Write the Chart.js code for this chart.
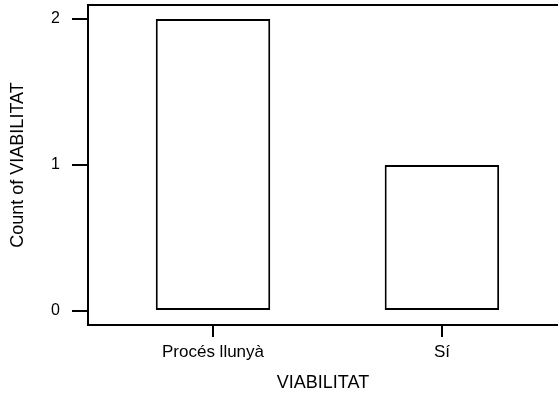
<!DOCTYPE html>
<html>
<head>
<meta charset="utf-8">
<script src="https://cdn.jsdelivr.net/npm/chart.js@4"></script>
<style>
    html, body { margin: 0; padding: 0; background: #fff; }
    #wrap { width: 558px; height: 396px; }
</style>
</head>
<body>
<div id="wrap"><canvas id="countChart" width="558" height="396"></canvas></div>
<script>
// data
const categories = ['Procés llunyà', 'Sí'];
const counts = [2, 1];
const yTicks = [0, 1, 2];

const points = categories.map((c, i) => ({ x: i + 1, y: counts[i] }));

// top frame line along the plot area
const frameTop = {
    id: 'frameTop',
    afterDraw(chart) {
        const ctx = chart.ctx;
        const a = chart.chartArea;
        ctx.save();
        ctx.strokeStyle = '#000';
        ctx.lineWidth = 2;
        ctx.beginPath();
        ctx.moveTo(a.left - 1, a.top);
        ctx.lineTo(a.right, a.top);
        ctx.stroke();
        ctx.restore();
    }
};

new Chart(document.getElementById('countChart'), {
    type: 'bar',
    data: {
        datasets: [{
            label: 'Count of VIABILITAT',
            data: points,
            backgroundColor: '#ffffff',
            borderColor: '#000000',
            borderWidth: 2,
            borderSkipped: false,
            barPercentage: 0.5,
            categoryPercentage: 1
        }]
    },
    options: {
        responsive: false,
        animation: false,
        layout: { padding: { top: 5, left: 0, right: 0, bottom: 0 } },
        plugins: {
            legend: { display: false },
            tooltip: { enabled: false }
        },
        scales: {
            x: {
                type: 'linear',
                offset: false,
                min: 0.454,
                max: 2.507,
                afterBuildTicks: function (axis) {
                    axis.ticks = categories.map((c, i) => ({ value: i + 1 }));
                },
                afterFit: function (axis) {
                    axis.height = 71;
                    axis.paddingLeft = 0;
                    axis.paddingRight = 0;
                },
                ticks: {
                    color: '#000',
                    font: { family: 'Liberation Sans, Arial, sans-serif', size: 17 },
                    padding: 5,
                    maxRotation: 0,
                    callback: function (value) {
                        return categories[value - 1];
                    }
                },
                grid: {
                    display: true,
                    offset: false,
                    drawOnChartArea: false,
                    drawTicks: true,
                    tickLength: 12,
                    color: '#000',
                    lineWidth: 2
                },
                border: { display: true, color: '#000', width: 2 },
                title: {
                    display: true,
                    text: 'VIABILITAT',
                    color: '#000',
                    font: { family: 'Liberation Sans, Arial, sans-serif', size: 18 },
                    padding: { top: 0, bottom: 2 }
                }
            },
            y: {
                min: -0.0959,
                max: 2.0959,
                afterBuildTicks: function (axis) {
                    axis.ticks = yTicks.map(v => ({ value: v }));
                },
                afterFit: function (axis) {
                    axis.width = 88;
                    axis.paddingTop = 0;
                    axis.paddingBottom = 0;
                },
                ticks: {
                    color: '#000',
                    font: { family: 'Liberation Sans, Arial, sans-serif', size: 16 },
                    padding: 12
                },
                grid: {
                    display: true,
                    drawOnChartArea: false,
                    drawTicks: true,
                    tickLength: 16,
                    color: '#000',
                    lineWidth: 2
                },
                border: { display: true, color: '#000', width: 2 },
                title: {
                    display: true,
                    text: 'Count of VIABILITAT',
                    color: '#000',
                    font: { family: 'Liberation Sans, Arial, sans-serif', size: 18 },
                    padding: { top: 7, bottom: 0 }
                }
            }
        }
    },
    plugins: [frameTop]
});
</script>
</body>
</html>
